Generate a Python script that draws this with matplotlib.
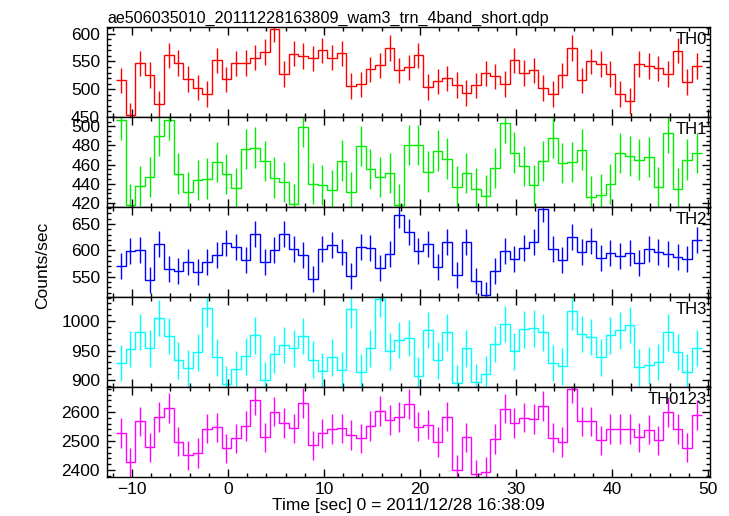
import numpy as np
import matplotlib
matplotlib.use("Agg")
import matplotlib.pyplot as plt
from matplotlib.ticker import MultipleLocator

plt.rcParams['font.family'] = ['Liberation Sans', 'DejaVu Sans']

title = 'ae506035010_20111228163809_wam3_trn_4band_short.qdp'
t_start = -11.17   # centre of first 1-s bin
bin_width = 1.0

th0 = [515.8, 453, 546.6, 525.4, 473, 561, 547.6, 518.7, 503, 491,
       552, 517.6, 546.6, 547.6, 556.7, 567.5, 608, 527, 564, 559.8,
       555.6, 570, 556.7, 564.6, 506, 508.6, 535.7, 543, 573.7, 534,
       539.3, 561, 504, 514, 519.4, 508, 493, 506.8, 528.5, 523,
       509.7, 552, 529, 534, 502.4, 491, 524.8, 573.7, 515.8, 550,
       545.8, 527, 491, 479, 545.8, 541.7, 537.5, 527, 569.4, 513.3,
       541.7]
th1 = [506.3, 418.3, 437.4, 446.8, 489.6, 507, 450.7, 431.2, 443.7, 445.5,
       462.5, 450, 435.7, 476.4, 477.8, 463.5, 446.5, 441.6, 418.6, 499.3,
       440.2, 438.5, 433.3, 464.2, 431.5, 479.2, 455.2, 446.8, 451.3, 418.3,
       480.2, 480.2, 452.8, 474.7, 466.3, 437.1, 451, 435, 427.7, 456.2,
       503.9, 472.6, 458.3, 438.5, 463.8, 487.5, 461.4, 462.5, 475.7, 426.7,
       428.8, 439.8, 472.2, 468.7, 465.3, 467.7, 436.4, 493.5, 435, 465.3,
       472.2]
th2 = [571.3, 598.5, 600.4, 544.3, 611.7, 564.5, 561.3, 577.7, 559.4, 577.7,
       591, 613.6, 607.2, 581.5, 631.1, 578.3, 600.4, 631.7, 603.4, 591,
       545.6, 602.3, 609.8, 596.6, 551.9, 607.2, 604.7, 567.5, 592.8, 666.4,
       634.3, 599.6, 611.7, 568.9, 615.5, 554.3, 615.5, 542.5, 516.6, 560.8,
       599.6, 583.4, 604.7, 615.5, 678.3, 602.3, 582.1, 626, 596.6, 618.5,
       586.4, 595.8, 589.6, 595.8, 575.8, 602.3, 596.6, 592.8, 587.1, 583.4,
       619.2]
th3 = [928.8, 953, 981.4, 953.7, 1005.6, 974.6, 933.4, 919.8, 947, 1021.5,
       938.5, 892.7, 918.6, 940.2, 975.8, 899.5, 943.6, 959.8, 953.7, 974.6,
       934.4, 915.3, 938.5, 916.4, 1019.8, 913, 953.7, 1037.3, 948.6, 968.3,
       971.2, 907.3, 984.7, 933.4, 980.8, 894.4, 953.7, 896.1, 909.7, 961,
       995.4, 948.6, 985.9, 987.6, 980.8, 928.8, 923.2, 1016.4, 978, 972.9,
       938.5, 975.8, 984.2, 993.2, 921.5, 924.9, 930.5, 980.8, 947.5, 913.6,
       954.2]
th0123 = [2527.6, 2426.6, 2567.8, 2478, 2581.7, 2613.8, 2497.7, 2450.7, 2459.7, 2542.4,
          2547.1, 2474.8, 2509.2, 2550.7, 2641.4, 2512.6, 2601, 2561, 2543.7, 2630,
          2485.1, 2526.4, 2540.3, 2543.7, 2520.7, 2509.2, 2550.7, 2603.4, 2571.3, 2582.8,
          2626.4, 2549.4, 2556.3, 2496.6, 2583.9, 2400, 2512.6, 2385, 2393, 2506.9,
          2611.4, 2561, 2580.5, 2575.9, 2620.7, 2511.5, 2496.6, 2680.5, 2567.8, 2567.8,
          2502.3, 2540.3, 2540.3, 2540.3, 2512.6, 2539, 2502.3, 2599, 2540.3, 2477,
          2589.7]

names = ['TH0', 'TH1', 'TH2', 'TH3', 'TH0123']
series = [th0, th1, th2, th3, th0123]
errors = [23, 21, 24.5, 31, 51]   # roughly constant 1-sigma bars
colors = ['#ff0000', '#00ee00', '#0000ff', '#00ffff', '#ff00ff']
ylims = [(450, 612), (415.8, 509.7), (512, 682), (888, 1041), (2376, 2686)]
majors = [50, 20, 50, 50, 100]
minors = [10, 5, 10, 10, 20]

fig = plt.figure(figsize=(7.29, 5.16), dpi=100)
gs = fig.add_gridspec(5, 1, left=107/729, right=710/729,
                      bottom=1-477/516, top=1-27/516, hspace=0)
axes = [fig.add_subplot(gs[i]) for i in range(5)]

for i, ax in enumerate(axes):
    vals = np.array(series[i])
    centres = t_start + bin_width * np.arange(len(vals))
    edges = np.append(centres - bin_width/2, centres[-1] + bin_width/2)
    ax.stairs(vals, edges, color=colors[i], lw=1.0, baseline=None)
    ax.errorbar(centres, vals, yerr=errors[i], fmt='none', ecolor=colors[i],
                elinewidth=1.0, capsize=0)
    ax.set_xlim(-12.6, 50.2)
    ax.set_ylim(*ylims[i])
    ax.xaxis.set_major_locator(MultipleLocator(10))
    ax.xaxis.set_minor_locator(MultipleLocator(2))
    ax.yaxis.set_major_locator(MultipleLocator(majors[i]))
    ax.yaxis.set_minor_locator(MultipleLocator(minors[i]))
    ax.tick_params(which='both', direction='in', top=True, right=True,
                   labelsize=12.5, colors='black')
    ax.tick_params(which='major', length=6, width=1)
    ax.tick_params(which='minor', length=3, width=1)
    ax.tick_params(axis='y', pad=5)
    for sp in ax.spines.values():
        sp.set_linewidth(1.0)
    if i < 4:
        ax.tick_params(labelbottom=False)
    ax.text(0.995, 0.95, names[i], transform=ax.transAxes, ha='right', va='top',
            fontsize=12)

axes[0].set_title(title, loc='left', fontsize=11.6, pad=3)
axes[-1].set_xlabel('Time [sec] 0 = 2011/12/28 16:38:09', fontsize=12.5, labelpad=1)
fig.text(0.058, 0.485, 'Counts/sec', rotation=90, ha='center', va='center',
         fontsize=12.5)

fig.savefig('out.png', dpi=100)
